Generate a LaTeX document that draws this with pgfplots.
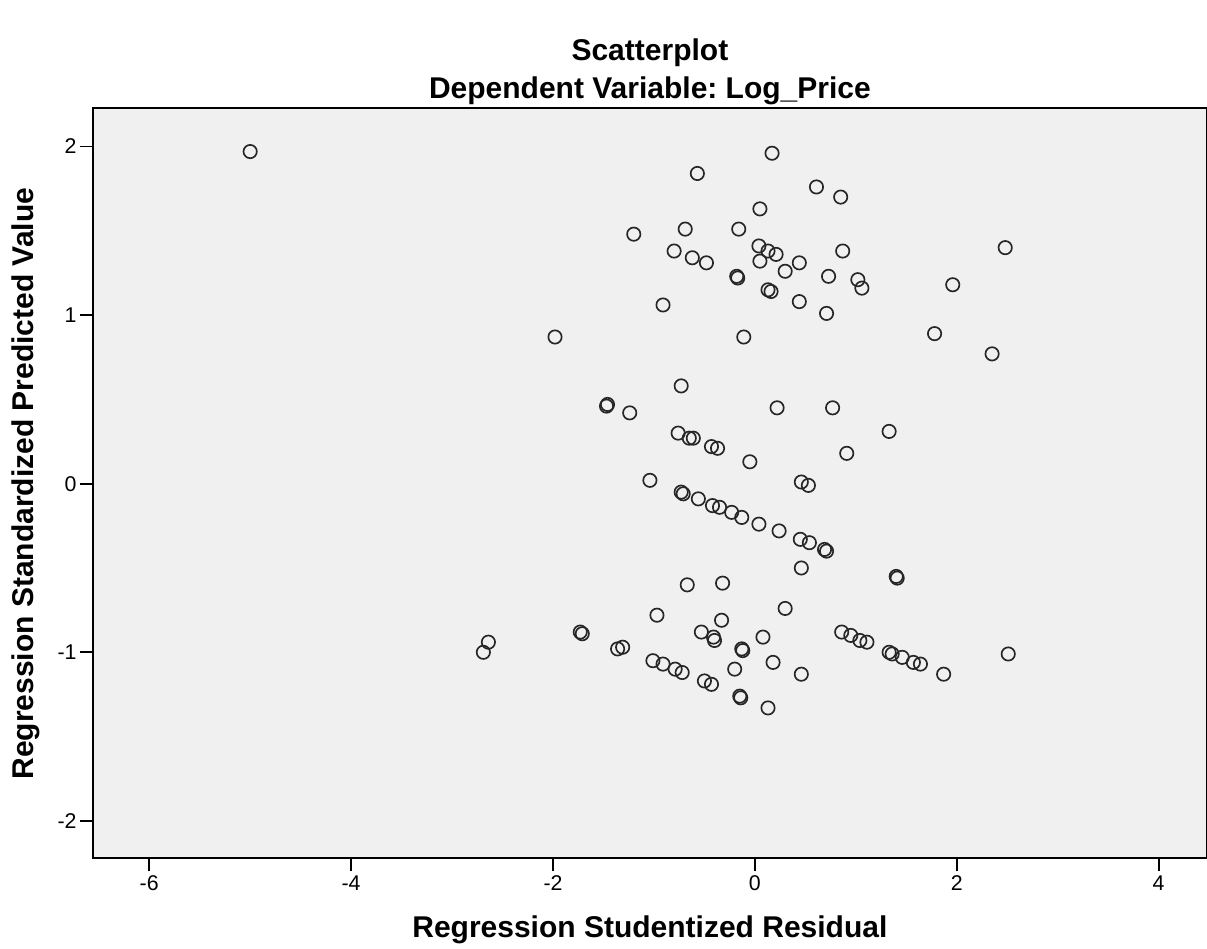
\documentclass[border=0pt]{standalone}
\usepackage{fontspec}
\setmainfont{Liberation Sans}
\usepackage{pgfplots}
\pgfplotsset{compat=1.18}
\definecolor{plotbg}{HTML}{F0F0F0}
\frenchspacing
\begin{document}
\begin{tikzpicture}
\path[use as bounding box] (-69.98pt,-68.25pt) rectangle (835.3pt,643.5pt);
\begin{axis}[
  at={(0,0)}, anchor=south west,
  scale only axis, width=835.3pt, height=562.7pt,
  xmin=-6.554, xmax=4.479, ymin=-2.22, ymax=2.23,
  axis background/.style={fill=plotbg},
  axis line style={black, line width=1.3pt},
  xtick={-6,-4,-2,0,2,4}, ytick={-2,-1,0,1,2},
  tick pos=left, tick align=outside,
  major tick length=10pt,
  every tick/.style={black, line width=1.3pt},
  /pgf/number format/assume math mode=true,
  ticklabel style={font=\fontsize{16}{19}\selectfont},
  yticklabel style={xshift=1pt},
  clip=false,
]
\addplot[only marks, mark=o, mark size=5pt, mark options={line width=1.25pt, draw=black!85}] table {
x y
-5.00 1.97
0.17 1.96
-0.57 1.84
0.61 1.76
0.85 1.70
0.05 1.63
-1.20 1.48
-0.69 1.51
-0.16 1.51
-0.80 1.38
-0.62 1.34
-0.48 1.31
0.04 1.41
0.13 1.38
0.21 1.36
0.05 1.32
0.87 1.38
0.44 1.31
0.30 1.26
-0.18 1.23
-0.17 1.22
0.73 1.23
1.02 1.21
1.06 1.16
0.13 1.15
0.16 1.14
0.44 1.08
0.71 1.01
-0.91 1.06
-0.11 0.87
2.48 1.40
1.96 1.18
1.78 0.89
2.35 0.77
-1.98 0.87
-0.73 0.58
-1.46 0.47
-1.47 0.46
-1.24 0.42
0.22 0.45
0.77 0.45
1.33 0.31
-0.76 0.30
-0.65 0.27
-0.61 0.27
-0.43 0.22
-0.37 0.21
-0.05 0.13
0.91 0.18
-1.04 0.02
0.46 0.01
0.53 -0.01
-0.73 -0.05
-0.71 -0.06
-0.56 -0.09
-0.42 -0.13
-0.35 -0.14
-0.23 -0.17
-0.13 -0.20
0.04 -0.24
0.24 -0.28
0.45 -0.33
0.54 -0.35
0.69 -0.39
0.71 -0.40
0.46 -0.50
1.40 -0.55
1.41 -0.56
-0.67 -0.60
-0.32 -0.59
-0.97 -0.78
-0.33 -0.81
0.30 -0.74
-1.73 -0.88
-1.71 -0.89
-1.36 -0.98
-1.31 -0.97
-0.53 -0.88
-0.41 -0.91
-0.40 -0.93
-0.13 -0.98
-0.12 -0.99
0.08 -0.91
0.86 -0.88
0.95 -0.90
1.04 -0.93
1.11 -0.94
-1.01 -1.05
-0.91 -1.07
-0.79 -1.10
-0.72 -1.12
-0.50 -1.17
-0.43 -1.19
-0.20 -1.10
0.18 -1.06
0.46 -1.13
-0.15 -1.26
-0.14 -1.27
0.13 -1.33
1.33 -1.00
1.36 -1.01
1.46 -1.03
1.57 -1.06
1.64 -1.07
1.87 -1.13
2.51 -1.01
-2.64 -0.94
-2.69 -1.00
};
\node[font=\bfseries\fontsize{22.5}{27}\selectfont, yshift=41pt] at (axis cs:-1.04,2.23) {Scatterplot};
\node[font=\bfseries\fontsize{22.5}{27}\selectfont, yshift=12.8pt] at (axis cs:-1.04,2.23) {Dependent Variable: Log\_Price};
\node[font=\bfseries\fontsize{22.5}{27}\selectfont, yshift=-54pt] at (axis cs:-1.04,-2.22) {Regression Studentized Residual};
\node[font=\bfseries\fontsize{22.5}{27}\selectfont, rotate=90] at ([xshift=-50.9pt]axis cs:-6.554,0.0) {Regression Standardized Predicted Value};
\end{axis}
\end{tikzpicture}
\end{document}
